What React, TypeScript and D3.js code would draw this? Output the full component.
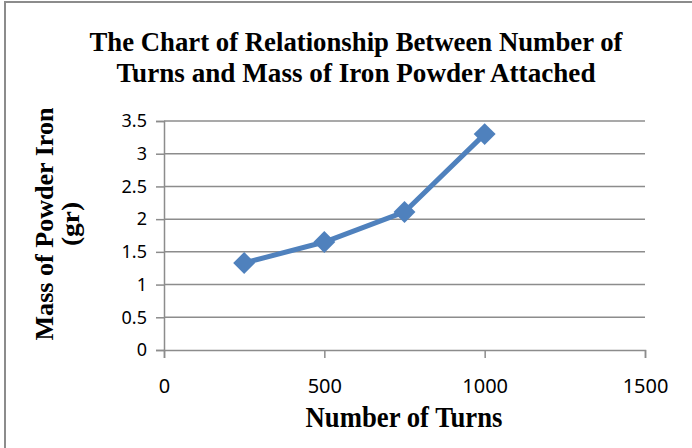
import { useEffect, useRef } from 'react';
import * as d3 from 'd3';

const turns = [250, 500, 750, 1000];
const massIron = [1.33, 1.65, 2.11, 3.3];
const xTicks = [0, 500, 1000, 1500];
const yTicks = [0, 0.5, 1, 1.5, 2, 2.5, 3, 3.5];
const titleLines = ['The Chart of Relationship Between Number of', 'Turns and Mass of Iron Powder Attached'];
const yLabelLines = ['Mass of Powder Iron', '(gr)'];
const xLabel = 'Number of Turns';

const W = 692;
const H = 448;
const plot = { left: 164, right: 645, top: 121, bottom: 350 };
const serif = '"Liberation Serif", "Times New Roman", serif';
const sans = '"Noto Sans", "Open Sans", sans-serif';
const gridColor = '#8c8c8c';
const lineColor = '#4f81bd';

const App = () => {
  const svgRef = useRef<SVGSVGElement>(null);

  useEffect(() => {
    const svg = d3.select(svgRef.current);
    svg.selectAll('*').remove();

    const x = d3.scaleLinear().domain([0, 1500]).range([plot.left, plot.right]);
    const y = d3.scaleLinear().domain([0, 3.5]).range([plot.bottom, plot.top]);

    svg.append('rect').attr('width', W).attr('height', H).attr('fill', '#fff');

    // chart border, right and bottom edges are cut off by the frame
    svg
      .append('rect')
      .attr('x', 5)
      .attr('y', 2)
      .attr('width', W + 20)
      .attr('height', H + 20)
      .attr('fill', 'none')
      .attr('stroke', gridColor)
      .attr('stroke-width', 2);

    // gridlines
    svg
      .append('g')
      .selectAll('line')
      .data(yTicks.filter((d) => d > 0))
      .enter()
      .append('line')
      .attr('x1', plot.left)
      .attr('x2', plot.right)
      .attr('y1', (d) => y(d))
      .attr('y2', (d) => y(d))
      .attr('stroke', gridColor)
      .attr('stroke-width', 1.5);

    const yAxis = svg
      .append('g')
      .attr('transform', `translate(${plot.left},0)`)
      .call(d3.axisLeft(y).tickValues(yTicks).tickSize(8).tickPadding(9).tickFormat(d3.format('')));
    yAxis.select('.domain').attr('stroke', gridColor).attr('stroke-width', 1.5);
    yAxis.selectAll('.tick line').attr('stroke', gridColor).attr('stroke-width', 1.5);
    yAxis.selectAll('.tick text').attr('font-family', sans).attr('font-size', 18).attr('fill', '#000');

    const xAxis = svg
      .append('g')
      .attr('transform', `translate(0,${plot.bottom})`)
      .call(d3.axisBottom(x).tickValues(xTicks).tickSize(8).tickPadding(21).tickFormat(d3.format('')));
    xAxis.select('.domain').attr('stroke', gridColor).attr('stroke-width', 1.5);
    xAxis.selectAll('.tick line').attr('stroke', gridColor).attr('stroke-width', 1.5);
    xAxis.selectAll('.tick text').attr('font-family', sans).attr('font-size', 20).attr('fill', '#000');

    const points = turns.map((t, i) => ({ t, m: massIron[i] }));

    const line = d3
      .line<{ t: number; m: number }>()
      .x((d) => x(d.t))
      .y((d) => y(d.m));

    svg
      .append('path')
      .datum(points)
      .attr('d', line)
      .attr('fill', 'none')
      .attr('stroke', lineColor)
      .attr('stroke-width', 5)
      .attr('stroke-linejoin', 'round');

    svg
      .append('g')
      .selectAll('path')
      .data(points)
      .enter()
      .append('path')
      .attr('d', d3.symbol().type(d3.symbolSquare).size(240)())
      .attr('transform', (d) => `translate(${x(d.t)},${y(d.m)}) rotate(45)`)
      .attr('fill', lineColor);

    // title
    const titleWidths = [533, 479];
    svg
      .append('g')
      .selectAll('text')
      .data(titleLines)
      .enter()
      .append('text')
      .attr('x', 356)
      .attr('y', (d, i) => 51 + i * 31)
      .attr('text-anchor', 'middle')
      .attr('font-family', serif)
      .attr('font-weight', 'bold')
      .attr('font-size', 28)
      .attr('textLength', (d, i) => titleWidths[i])
      .attr('lengthAdjust', 'spacingAndGlyphs')
      .text((d) => d);

    // y label
    const yLabelWidths = [233, 44];
    svg
      .append('g')
      .selectAll('text')
      .data(yLabelLines)
      .enter()
      .append('text')
      .attr('transform', (d, i) => `translate(${53 + i * 26},224) rotate(-90)`)
      .attr('text-anchor', 'middle')
      .attr('font-family', serif)
      .attr('font-weight', 'bold')
      .attr('font-size', 26)
      .attr('textLength', (d, i) => yLabelWidths[i])
      .attr('lengthAdjust', 'spacingAndGlyphs')
      .text((d) => d);

    // x label
    svg
      .append('text')
      .attr('x', 404)
      .attr('y', 427)
      .attr('text-anchor', 'middle')
      .attr('font-family', serif)
      .attr('font-weight', 'bold')
      .attr('font-size', 29)
      .attr('textLength', 197)
      .attr('lengthAdjust', 'spacingAndGlyphs')
      .text(xLabel);
  }, []);

  return (
    <svg
      ref={svgRef}
      width={W}
      height={H}
      style={{ position: 'absolute', left: 0, top: 0, display: 'block' }}
    />
  );
};

export default App;
